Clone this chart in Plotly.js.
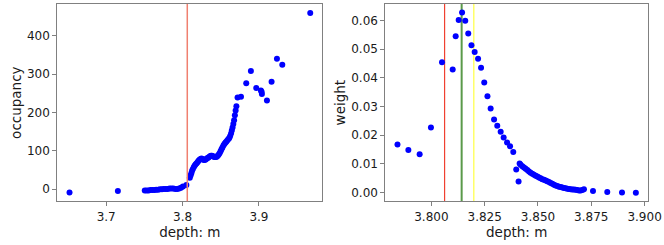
<!DOCTYPE html>
<html>
<head>
<meta charset="utf-8">
<script src="https://cdn.plot.ly/plotly-3.0.1.min.js"></script>
<style>html,body{margin:0;padding:0;background:#fff;}#chart{width:664px;height:245px;}</style>
</head>
<body>
<div id="chart"></div>
<script>
// Left panel: occupancy vs depth
const occDepth = [
  3.6520, 3.7153,
  3.7505, 3.7530, 3.7555, 3.7580, 3.7605, 3.7630, 3.7655, 3.7680, 3.7705, 3.7730,
  3.7755, 3.7780, 3.7805, 3.7830, 3.7855, 3.7880, 3.7905, 3.7930, 3.7955, 3.7980,
  3.8005, 3.8050,
  3.8095, 3.8105, 3.8115, 3.8125, 3.8135, 3.8148, 3.8160, 3.8172, 3.8185, 3.8198,
  3.8210, 3.8222, 3.8235, 3.8248, 3.8260, 3.8272, 3.8285, 3.8298, 3.8310, 3.8322,
  3.8335, 3.8348, 3.8360, 3.8372, 3.8385, 3.8398, 3.8410, 3.8422, 3.8435, 3.8448,
  3.8460, 3.8472, 3.8485, 3.8498, 3.8510, 3.8522, 3.8535, 3.8548, 3.8560, 3.8572,
  3.8585, 3.8598, 3.8610, 3.8622, 3.8635, 3.8645, 3.8655, 3.8665, 3.8675, 3.8685,
  3.8695, 3.8705, 3.8720, 3.8765,
  3.8834, 3.8895, 3.8965, 3.9026, 3.9035, 3.9039, 3.9105, 3.9166, 3.9236, 3.9306, 3.9672
];
const occupancy = [
  -8.7, -4.3,
  -3, -3, -3, -2, -2, -2, -1, -1, 0, 0,
  1, 1, 1, 2, 2, 2, 1, 1, 2, 4,
  7, 11,
  30, 36, 42, 48, 53, 58, 62, 65, 68, 71,
  74, 77, 79, 80, 79, 77, 76, 77, 79, 81,
  82, 84, 86, 87, 87, 86, 85, 84, 84, 85,
  87, 90, 94, 99, 104, 109, 114, 118, 121, 124,
  127, 130, 133, 138, 145, 153, 161, 170, 180, 193,
  205, 216, 239, 241,
  276, 308, 264, 257, 254, 248, 231, 280, 340, 324, 459
];

// Right panel: weight vs depth
const wDepth = [
  3.7841, 3.7892, 3.7945, 3.7998, 3.8050, 3.8100, 3.8114, 3.8128, 3.8144, 3.8159,
  3.8173, 3.8188, 3.8203, 3.8219, 3.8233, 3.8248, 3.8263, 3.8278, 3.8294, 3.8309,
  3.8325, 3.8339, 3.8355, 3.8369, 3.8384, 3.8398, 3.8409, 3.8414,
  3.84188, 3.84266, 3.84344, 3.84422, 3.84500, 3.84578, 3.84656, 3.84734, 3.84813, 3.84891,
  3.84969, 3.85047, 3.85125, 3.85203, 3.85281, 3.85359, 3.85438, 3.85516, 3.85594, 3.85672,
  3.85750, 3.85828, 3.85906, 3.85984, 3.86063, 3.86141, 3.86219, 3.86297, 3.86375, 3.86453,
  3.86531, 3.86609, 3.86688, 3.86766, 3.86844, 3.86922, 3.87000, 3.87078, 3.87156,
  3.8758, 3.8825, 3.8894, 3.8959
];
const weight = [
  0.0168, 0.0149, 0.0134, 0.0227, 0.0454, 0.0429, 0.0545, 0.0601, 0.0627, 0.0599,
  0.0554, 0.0513, 0.0490, 0.0466, 0.0435, 0.0384, 0.0336, 0.0293, 0.0255, 0.0233,
  0.0212, 0.0192, 0.0175, 0.0162, 0.0142, 0.0081, 0.0039, 0.0102,
  0.0097, 0.0092, 0.0088, 0.0083, 0.0079, 0.0074, 0.0069, 0.0066, 0.0062, 0.0059,
  0.0056, 0.0053, 0.0050, 0.0047, 0.0045, 0.0042, 0.0040, 0.0037, 0.0034, 0.0031,
  0.0028, 0.0025, 0.0023, 0.0021, 0.0020, 0.0018, 0.0016, 0.0015, 0.0014, 0.0013,
  0.0012, 0.0011, 0.0011, 0.0010, 0.0009, 0.0008, 0.0008, 0.0009, 0.0012,
  0.0006, 0.0002, 0.0001, 0.0000
];

// Reference depths (vertical lines)
const redDepth = 3.8062;
const greenDepth = 3.8142;
const yellowDepth = 3.8199;

const xTicksLeft = [3.7, 3.8, 3.9];
const yTicksLeft = [0, 100, 200, 300, 400];
const xTicksRight = [3.800, 3.825, 3.850, 3.875, 3.900];
const yTicksRight = [0.00, 0.01, 0.02, 0.03, 0.04, 0.05, 0.06];

const FONT = 'DejaVu Sans, sans-serif';
const TXT = '#1a1a1a';
const FRAME = '#808080';

const markerStyle = {color: '#0000ff', size: 6};

const traces = [
  {x: occDepth, y: occupancy, type: 'scatter', mode: 'markers', marker: markerStyle, xaxis: 'x', yaxis: 'y', hoverinfo: 'x+y'},
  {x: wDepth, y: weight, type: 'scatter', mode: 'markers', marker: markerStyle, xaxis: 'x2', yaxis: 'y2', hoverinfo: 'x+y'}
];

function axisBase() {
  return {
    showgrid: false, zeroline: false, showline: true, mirror: true,
    linecolor: FRAME, linewidth: 1,
    ticks: 'outside', ticklen: 4, tickwidth: 1, tickcolor: FRAME,
    tickfont: {family: FONT, size: 12, color: TXT},
    automargin: false
  };
}

const layout = {
  width: 664, height: 245,
  margin: {l: 0, r: 0, t: 0, b: 0},
  paper_bgcolor: '#ffffff', plot_bgcolor: '#ffffff',
  showlegend: false,
  font: {family: FONT, color: TXT},
  xaxis: Object.assign(axisBase(), {
    domain: [0.0863, 0.4854], range: [3.636, 3.983],
    tickvals: xTicksLeft, ticktext: xTicksLeft.map(v => v.toFixed(1)),
    anchor: 'y',
    title: {text: 'depth: m', font: {family: FONT, size: 13.5, color: TXT}, standoff: 0}
  }),
  yaxis: Object.assign(axisBase(), {
    domain: [0.1784, 0.9837], range: [-31.3, 482.5],
    tickvals: yTicksLeft, ticktext: yTicksLeft.map(v => String(v)),
    anchor: 'x',
    title: {text: 'occupancy', font: {family: FONT, size: 13.5, color: TXT}, standoff: 2}
  }),
  xaxis2: Object.assign(axisBase(), {
    domain: [0.5803, 0.9759], range: [3.7784, 3.9016],
    tickvals: xTicksRight, ticktext: xTicksRight.map(v => v.toFixed(3)),
    anchor: 'y2',
    title: {text: 'depth: m', font: {family: FONT, size: 13.5, color: TXT}, standoff: 0}
  }),
  yaxis2: Object.assign(axisBase(), {
    domain: [0.1784, 0.9837], range: [-0.003, 0.0657],
    tickvals: yTicksRight, ticktext: yTicksRight.map(v => v.toFixed(2)),
    anchor: 'x2',
    title: {text: 'weight', font: {family: FONT, size: 13.5, color: TXT}, standoff: 2}
  }),
  shapes: [
    {type: 'line', xref: 'x', yref: 'y domain', x0: redDepth, x1: redDepth, y0: 0, y1: 1,
     line: {color: '#f08070', width: 1.5}, layer: 'above'},
    {type: 'line', xref: 'x2', yref: 'y2 domain', x0: redDepth, x1: redDepth, y0: 0, y1: 1,
     line: {color: '#f04030', width: 1.2}, layer: 'below'},
    {type: 'line', xref: 'x2', yref: 'y2 domain', x0: greenDepth, x1: greenDepth, y0: 0, y1: 1,
     line: {color: '#5a9a4a', width: 2}, layer: 'below'},
    {type: 'line', xref: 'x2', yref: 'y2 domain', x0: yellowDepth, x1: yellowDepth, y0: 0, y1: 1,
     line: {color: '#ffff50', width: 1.3}, layer: 'below'}
  ]
};

Plotly.newPlot('chart', traces, layout, {staticPlot: true, displayModeBar: false});
</script>
</body>
</html>
